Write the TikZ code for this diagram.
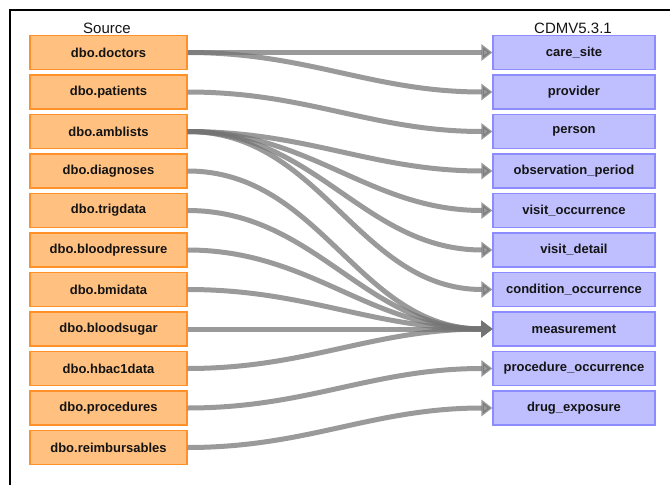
\documentclass[tikz,border=0pt]{standalone}
\usepackage{fontspec}
\setmainfont{Liberation Sans}
\usetikzlibrary{arrows.meta}
\definecolor{srcfill}{RGB}{255,192,128}
\definecolor{srcdraw}{RGB}{255,145,40}
\definecolor{tgtfill}{RGB}{191,191,255}
\definecolor{tgtdraw}{RGB}{140,140,255}
\definecolor{linkgray}{RGB}{115,115,115}
\definecolor{txt}{RGB}{20,20,20}
\begin{document}
\begin{tikzpicture}[x=1pt,y=-1pt,
  src/.style={draw=srcdraw, fill=srcfill, line width=1.2pt, minimum width=157pt, minimum height=34pt, inner sep=0pt, text=txt, font=\fontsize{13}{15}\selectfont\bfseries},
  tgt/.style={draw=tgtdraw, fill=tgtfill, line width=1.2pt, minimum width=162pt, minimum height=34pt, inner sep=0pt, text=txt, font=\fontsize{13}{15}\selectfont\bfseries},
  hdr/.style={anchor=base, inner sep=0pt, text=txt, font=\fontsize{15}{17}\selectfont},
  link/.style={draw=linkgray, line width=5pt, opacity=0.72, -{Triangle[length=11pt,width=16pt]}, out=0, in=180},
  frameline/.style={draw=black, line width=2pt}
]
\useasboundingbox (0,0) rectangle (670,485);
\coordinate (fa) at (10,485);
\coordinate (fb) at (10,10);
\coordinate (fc) at (670,10);
\draw[frameline] (fa) -- (fb) -- (fc);

\node[hdr] (hs) at (107,33) {Source};
\node[hdr] (ht) at (573,33) {CDMV5.3.1};

\node[src] (s1) at (108.5,52.5) {dbo.doctors};
\node[src] (s2) at (108.5,92) {dbo.patients};
\node[src] (s3) at (108.5,131.5) {dbo.amblists};
\node[src] (s4) at (108.5,171) {dbo.diagnoses};
\node[src] (s5) at (108.5,210.5) {dbo.trigdata};
\node[src] (s6) at (108.5,250) {dbo.bloodpressure};
\node[src] (s7) at (108.5,289.5) {dbo.bmidata};
\node[src] (s8) at (108.5,329) {dbo.bloodsugar};
\node[src] (s9) at (108.5,368.5) {dbo.hbac1data};
\node[src] (s10) at (108.5,408) {dbo.procedures};
\node[src] (s11) at (108.5,447.5) {dbo.reimbursables};

\node[tgt] (t1) at (574,52.5) {care\_site};
\node[tgt] (t2) at (574,92) {provider};
\node[tgt] (t3) at (574,131.5) {person};
\node[tgt] (t4) at (574,171) {observation\_period};
\node[tgt] (t5) at (574,210.5) {visit\_occurrence};
\node[tgt] (t6) at (574,250) {visit\_detail};
\node[tgt] (t7) at (574,289.5) {condition\_occurrence};
\node[tgt] (t8) at (574,329) {measurement};
\node[tgt] (t9) at (574,368.5) {procedure\_occurrence};
\node[tgt] (t10) at (574,408) {drug\_exposure};

\draw[link] (s1.east) to (t1.west);
\draw[link] (s1.east) to (t2.west);
\draw[link] (s2.east) to (t3.west);
\draw[link] (s3.east) to (t4.west);
\draw[link] (s3.east) to (t5.west);
\draw[link] (s3.east) to (t6.west);
\draw[link] (s3.east) to (t7.west);
\draw[link] (s4.east) to (t8.west);
\draw[link] (s5.east) to (t8.west);
\draw[link] (s6.east) to (t8.west);
\draw[link] (s7.east) to (t8.west);
\draw[link] (s8.east) to (t8.west);
\draw[link] (s9.east) to (t8.west);
\draw[link] (s10.east) to (t9.west);
\draw[link] (s11.east) to (t10.west);
\end{tikzpicture}
\end{document}
